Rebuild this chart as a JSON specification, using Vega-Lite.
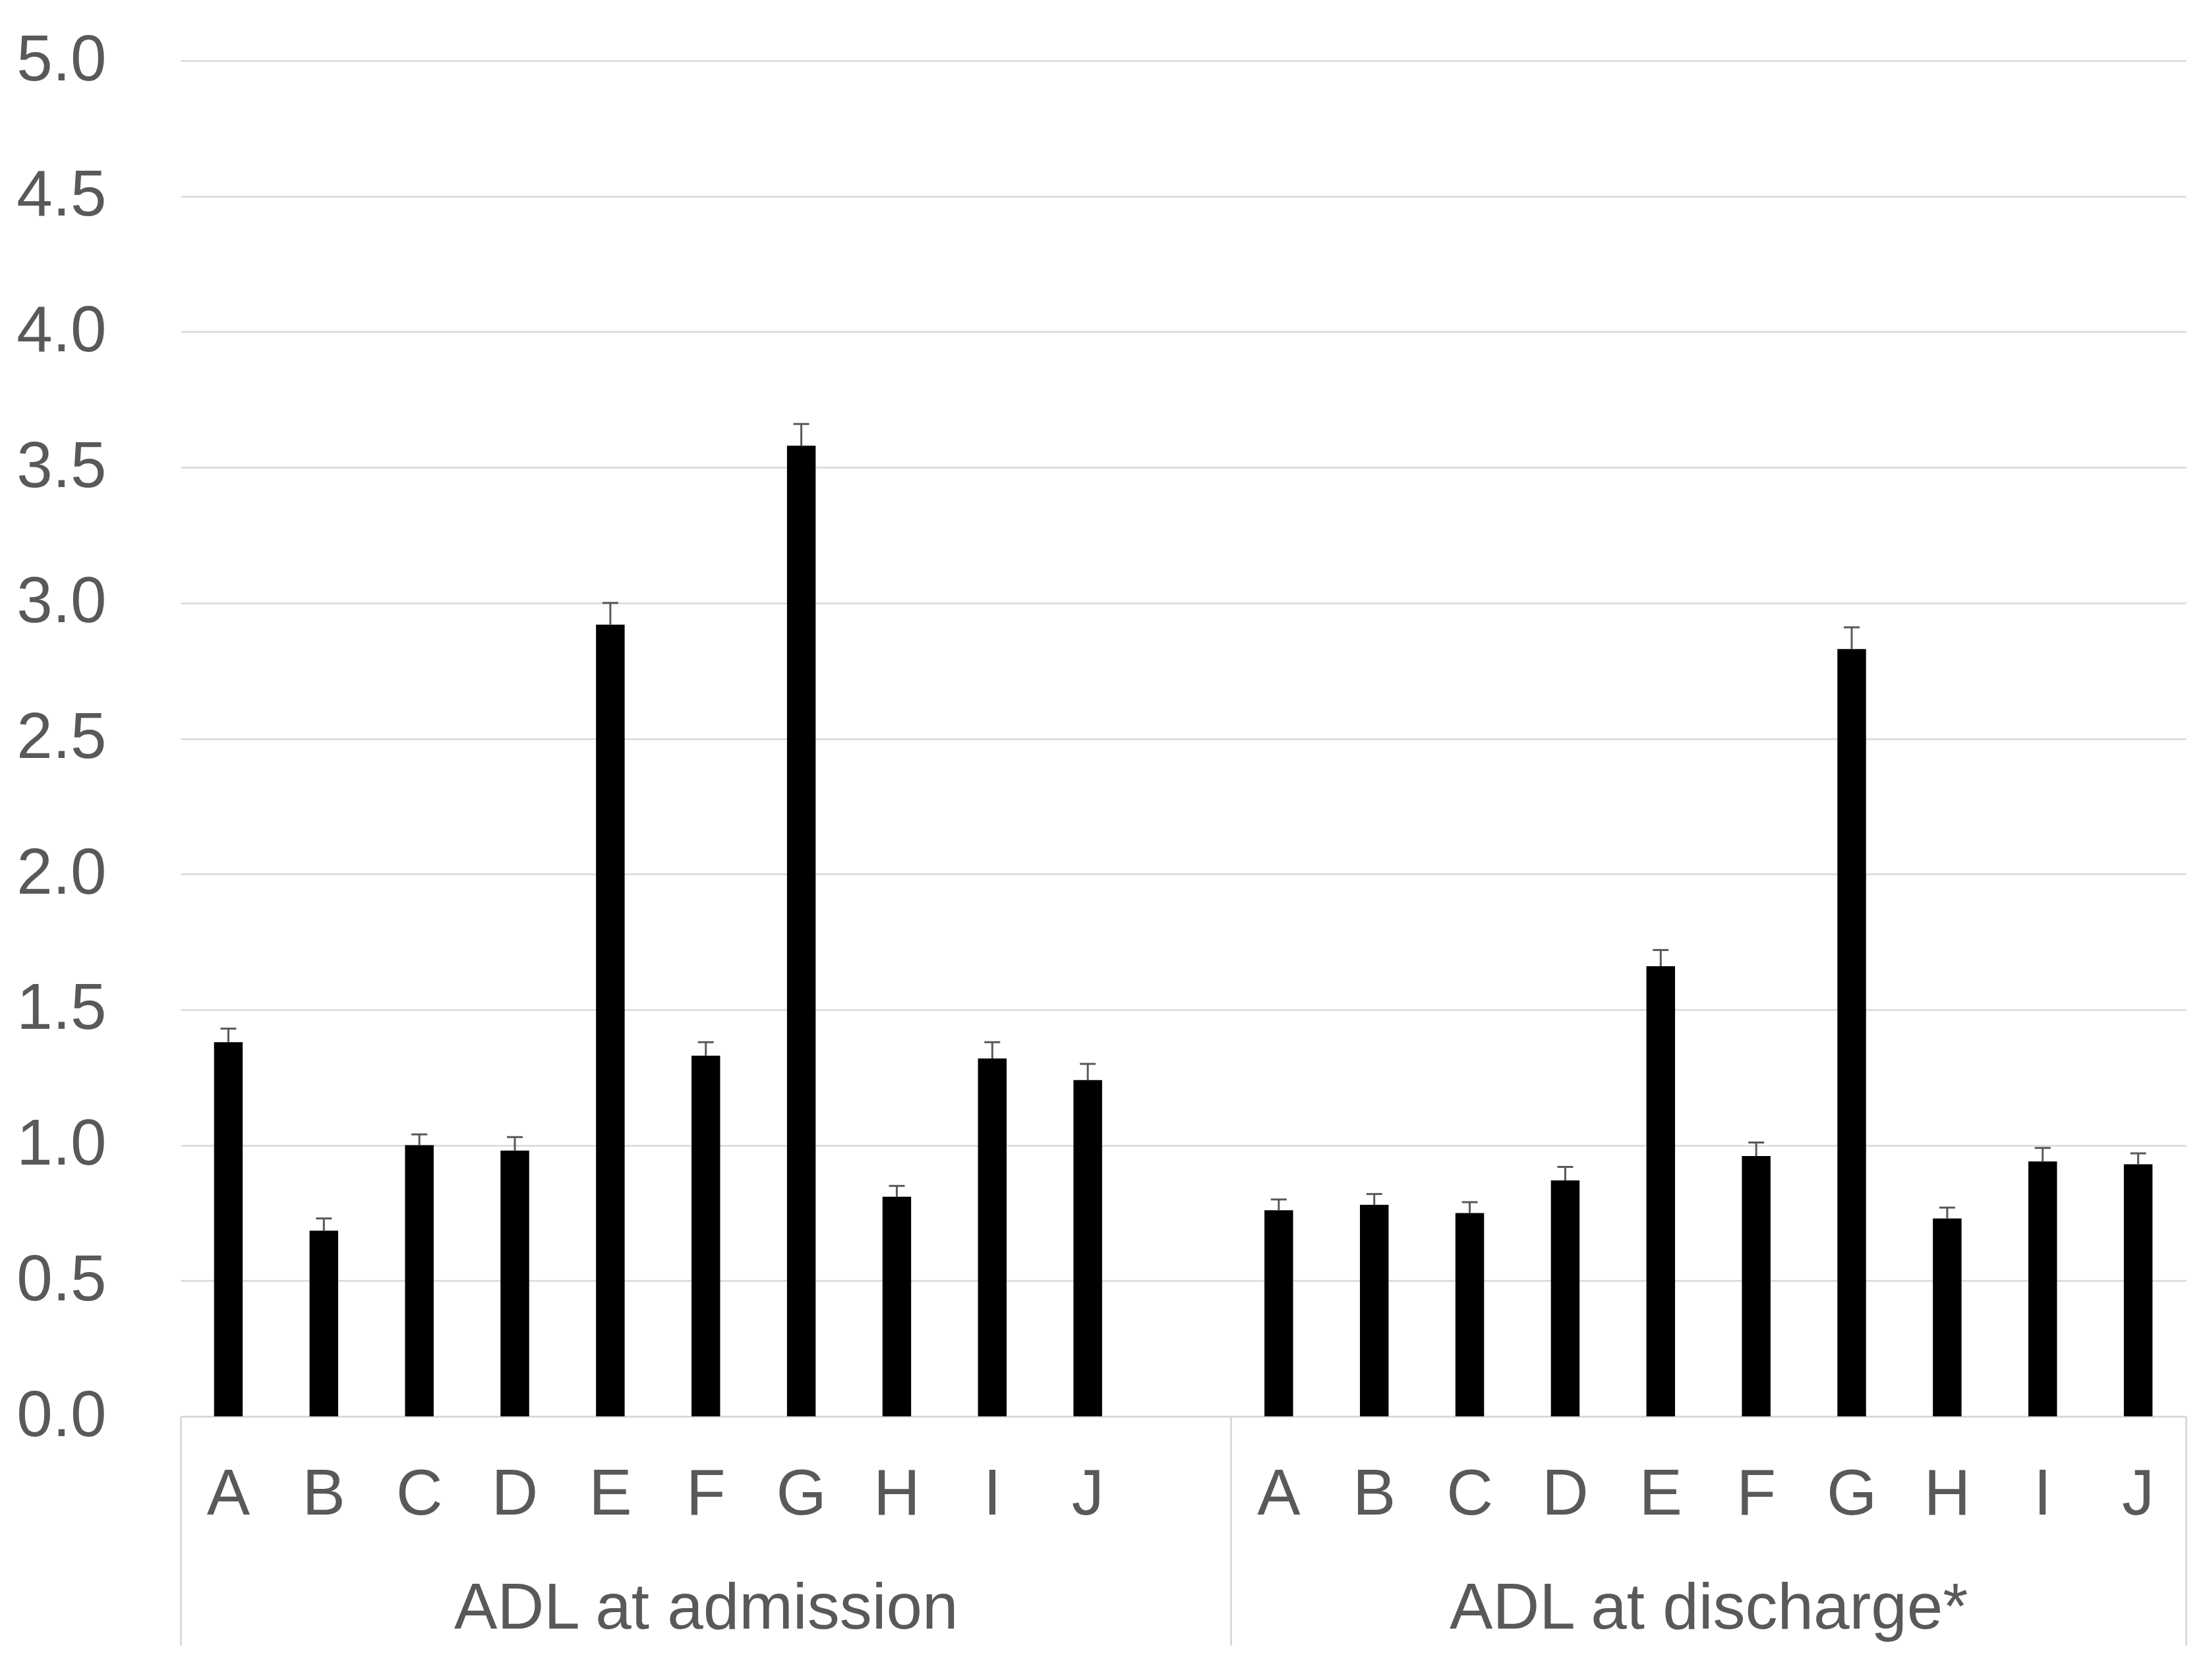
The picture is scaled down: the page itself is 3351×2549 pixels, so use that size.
{
  "$schema": "https://vega.github.io/schema/vega-lite/v6.json",
  "width": 3042,
  "height": 2057,
  "autosize": {"type": "none"},
  "padding": {"left": 274, "top": 92, "right": 35, "bottom": 400},
  "background": "#ffffff",
  "config": {
    "view": {"stroke": null},
    "font": "Liberation Sans",
    "axis": {"labelFont": "Liberation Sans", "labelColor": "#595959", "labelFontSize": 98}
  },
  "data": {
    "values": [
      {"group": "ADL at admission", "letter": "A", "slot": "adm_A", "mean": 1.38, "upper": 1.43},
      {"group": "ADL at admission", "letter": "B", "slot": "adm_B", "mean": 0.685, "upper": 0.73},
      {"group": "ADL at admission", "letter": "C", "slot": "adm_C", "mean": 1.0, "upper": 1.04},
      {"group": "ADL at admission", "letter": "D", "slot": "adm_D", "mean": 0.98, "upper": 1.03},
      {"group": "ADL at admission", "letter": "E", "slot": "adm_E", "mean": 2.92, "upper": 3.0},
      {"group": "ADL at admission", "letter": "F", "slot": "adm_F", "mean": 1.33, "upper": 1.38},
      {"group": "ADL at admission", "letter": "G", "slot": "adm_G", "mean": 3.58, "upper": 3.66},
      {"group": "ADL at admission", "letter": "H", "slot": "adm_H", "mean": 0.81, "upper": 0.85},
      {"group": "ADL at admission", "letter": "I", "slot": "adm_I", "mean": 1.32, "upper": 1.38},
      {"group": "ADL at admission", "letter": "J", "slot": "adm_J", "mean": 1.24, "upper": 1.3},
      {"group": "ADL at discharge*", "letter": "A", "slot": "dis_A", "mean": 0.76, "upper": 0.8},
      {"group": "ADL at discharge*", "letter": "B", "slot": "dis_B", "mean": 0.78, "upper": 0.82},
      {"group": "ADL at discharge*", "letter": "C", "slot": "dis_C", "mean": 0.75, "upper": 0.79},
      {"group": "ADL at discharge*", "letter": "D", "slot": "dis_D", "mean": 0.87, "upper": 0.92},
      {"group": "ADL at discharge*", "letter": "E", "slot": "dis_E", "mean": 1.66, "upper": 1.72},
      {"group": "ADL at discharge*", "letter": "F", "slot": "dis_F", "mean": 0.96, "upper": 1.01},
      {"group": "ADL at discharge*", "letter": "G", "slot": "dis_G", "mean": 2.83, "upper": 2.91},
      {"group": "ADL at discharge*", "letter": "H", "slot": "dis_H", "mean": 0.73, "upper": 0.77},
      {"group": "ADL at discharge*", "letter": "I", "slot": "dis_I", "mean": 0.94, "upper": 0.99},
      {"group": "ADL at discharge*", "letter": "J", "slot": "dis_J", "mean": 0.93, "upper": 0.97}
    ]
  },
  "layer": [
    {
      "mark": {"type": "bar", "color": "#000000", "width": {"band": 0.3}},
      "encoding": {
        "x": {
          "field": "slot", "type": "nominal", "title": null,
          "scale": {
            "domain": ["adm_A","adm_B","adm_C","adm_D","adm_E","adm_F","adm_G","adm_H","adm_I","adm_J","adm__","dis_A","dis_B","dis_C","dis_D","dis_E","dis_F","dis_G","dis_H","dis_I","dis_J"],
            "paddingInner": 0, "paddingOuter": 0
          },
          "axis": {
            "orient": "bottom",
            "labelExpr": "datum.value === 'adm__' ? '' : substring(datum.value, 4)",
            "labelAngle": 0,
            "labelPadding": 71,
            "labelBaseline": "top",
            "labelOverlap": false,
            "ticks": false,
            "tickSize": 0,
            "domain": true,
            "domainColor": "#d9d9d9",
            "domainWidth": 3,
            "grid": false,
            "title": null
          }
        },
        "y": {
          "field": "mean", "type": "quantitative", "title": null,
          "scale": {"domain": [0, 5], "nice": false, "zero": true},
          "axis": {
            "values": [0, 0.5, 1, 1.5, 2, 2.5, 3, 3.5, 4, 4.5, 5],
            "format": ".1f",
            "domain": false,
            "ticks": false,
            "tickSize": 0,
            "labelPadding": 113,
            "labelFlush": false,
            "grid": true,
            "gridColor": "#d9d9d9",
            "gridWidth": 2.5,
            "title": null
          }
        }
      }
    },
    {
      "mark": {"type": "rule", "color": "#595959", "strokeWidth": 3},
      "encoding": {
        "x": {
          "field": "slot", "type": "nominal", "title": null,
          "axis": {
            "orient": "bottom",
            "labelExpr": "datum.value === 'adm_F' ? 'ADL at admission' : (datum.value === 'dis_F' ? 'ADL at discharge*' : '')",
            "labelAngle": 0,
            "labelLimit": 0,
            "labelOverlap": false,
            "labelBound": false,
            "labelBaseline": "top",
            "labelPadding": -103,
            "labelOffset": {"condition": {"test": "datum.value === 'dis_F'", "value": -72.43}, "value": 0},
            "ticks": true,
            "tickBand": "extent",
            "tickSize": 347,
            "tickWidth": 3,
            "tickColor": "#d9d9d9",
            "tickOpacity": {"condition": {"test": "datum.index === -1 || datum.index === 1 || datum.value === 'adm__'", "value": 1}, "value": 0},
            "domain": false,
            "grid": false,
            "title": null
          }
        },
        "y": {"field": "mean", "type": "quantitative", "title": null, "scale": {"domain": [0, 5], "nice": false}},
        "y2": {"field": "upper"}
      }
    },
    {
      "mark": {"type": "tick", "color": "#595959", "size": 24, "thickness": 3, "opacity": 1},
      "encoding": {
        "x": {"field": "slot", "type": "nominal", "title": null, "axis": null},
        "y": {"field": "upper", "type": "quantitative", "title": null, "scale": {"domain": [0, 5], "nice": false}}
      }
    }
  ],
  "resolve": {"axis": {"x": "independent"}}
}
